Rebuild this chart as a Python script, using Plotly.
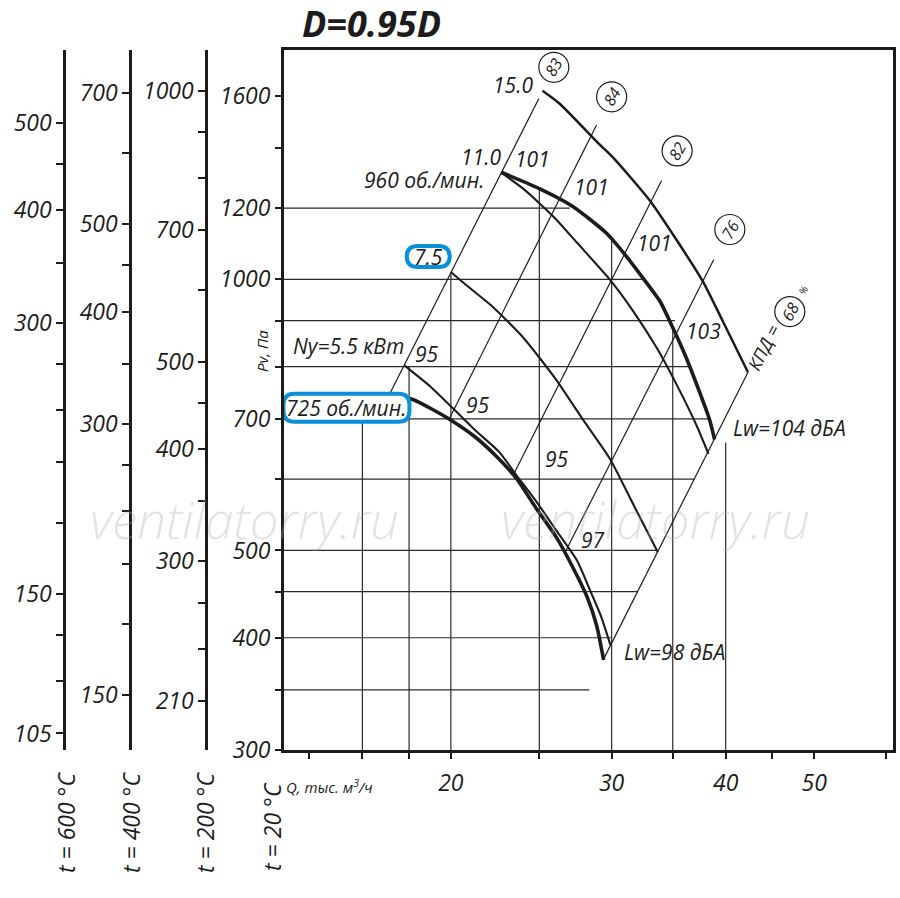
import numpy as np
import plotly.graph_objects as go

# --- fan curves, Q in thousand m3/h, Pv in Pa ---
# 960 rpm, motor 15.0 kW
q_960_15 = [25.2, 26.3, 29.1, 30.1, 33.0, 35.3, 37.8, 39.7, 42.3]
p_960_15 = [1620, 1568, 1412, 1366, 1225, 1108, 993, 899, 789]
# 960 rpm, motor 11.0 kW (thick working curve)
q_960_11 = [22.7, 25.0, 27.2, 29.6, 30.9, 32.5, 33.9, 35.0, 36.2, 37.5, 38.4, 38.9]
p_960_11 = [1315, 1261, 1205, 1126, 1071, 1002, 945, 884, 819, 747, 699, 664]
# 960 rpm, 11.0 kW second curve
q_960_11b = [22.7, 24.0, 25.0, 26.1, 27.5, 29.9, 31.7, 33.6, 35.3, 37.2, 38.3]
p_960_11b = [1315, 1261, 1215, 1165, 1098, 998, 921, 840, 766, 687, 640]
# 960 rpm, motor 7.5 kW
q_960_75 = [20.0, 20.8, 22.1, 24.0, 26.1, 27.9, 29.9, 31.7, 33.7]
p_960_75 = [1019, 985, 937, 862, 773, 699, 631, 562, 498]
# 725 rpm, motor 5.5 kW
q_725_55 = [17.8, 19.0, 20.0, 21.3, 22.6, 23.6, 24.8, 26.1, 27.5, 28.4, 29.2, 29.9]
p_725_55 = [802, 760, 723, 679, 643, 606, 567, 526, 487, 452, 423, 393]
# 725 rpm (thick working curve)
q_725 = [17.2, 18.2, 19.1, 19.95, 21.2, 22.4, 23.6, 24.8, 26.1, 27.2, 28.2, 28.9, 29.4]
p_725 = [747, 735, 717, 699, 670, 637, 601, 557, 517, 479, 444, 412, 378]

# efficiency rays (two end points each)
kpd_vals = ["83", "84", "82", "76", "68"]
kpd_q = [(17.15, 24.97), (19.95, 28.88), (23.44, 34.03), (26.66, 38.82), (29.37, 42.33)]
kpd_p = [(747, 1588), (702, 1484), (608, 1288), (497, 1052), (378, 789)]
kpd_circle_q = [25.93, 30.0, 35.39, 40.42, 47.02]
kpd_circle_p = [1720, 1595, 1389, 1136, 921]

# grid lines drawn only up to the curves
grid_p = [350, 400, 450, 500, 600, 700, 800, 900, 1000, 1200]
grid_p_end = [28.35, 30.0, 32.05, 33.7, 37.0, 38.4, 36.5, 35.2, 32.5, 27.0]
grid_q = [16, 18, 20, 25, 30, 35, 40]
grid_q_top = [700, 800, 1019, 1261, 1110, 884, 659]

# text labels inside the chart
lbl_text = ["15.0", "11.0", "960 об./мин.", "7.5", "101", "101", "101", "103",
            "Ny=5.5 кВт", "95", "95", "95", "97", "725 об./мин."]
lbl_q = [23.4, 21.6, 18.73, 18.89, 24.59, 28.52, 33.46, 37.79, 15.43, 18.81, 21.43, 26.11, 28.59, 15.37]
lbl_p = [1642, 1366, 1288, 1060, 1359, 1267, 1097, 876, 844, 826, 726, 632, 513, 720]
lw_text = ["Lw=104 дБА", "Lw=98 дБА"]
lw_q = [40.52, 30.78]
lw_p = [684, 386]

# axis ticks
q_ticks = [14, 16, 18, 20, 25, 30, 35, 40, 45, 50, 60]
q_labels = [20, 30, 40, 50]
p_ticks = [300, 350, 400, 450, 500, 600, 700, 800, 900, 1000, 1200, 1400, 1600]
p_labels = [300, 400, 500, 700, 1000, 1200, 1600]
t_names = ["t = 600 °C", "t = 400 °C", "t = 200 °C"]
t_ratio = [0.3353, 0.4343, 0.617]
t_ticks = [
    [105, 120, 135, 150, 180, 210, 240, 270, 300, 350, 400, 450, 500],
    [150, 180, 210, 240, 270, 300, 350, 400, 450, 500, 600, 700],
    [210, 240, 270, 300, 350, 400, 450, 500, 600, 700, 800, 900, 1000],
]
t_labels = [
    [105, 150, 300, 400, 500],
    [150, 300, 400, 500, 700],
    [210, 300, 400, 500, 700, 1000],
]

q_min, q_max = 13.13, 61.0
p_min, p_max = 300, 1797

W, H = 900, 898
FONT = "Open Sans"
INK = "#1c1c1c"
BLUE = "#0a8fd9"


def px_x(v):
    return v / W


def px_y(v):
    return 1 - v / H


def rounded_box(w, h, r):
    a, b = w / 2, h / 2
    return (f"M {-a + r:.1f},{-b:.1f} L {a - r:.1f},{-b:.1f} Q {a:.1f},{-b:.1f} {a:.1f},{-b + r:.1f} "
            f"L {a:.1f},{b - r:.1f} Q {a:.1f},{b:.1f} {a - r:.1f},{b:.1f} "
            f"L {-a + r:.1f},{b:.1f} Q {-a:.1f},{b:.1f} {-a:.1f},{b - r:.1f} "
            f"L {-a:.1f},{-b + r:.1f} Q {-a:.1f},{-b:.1f} {-a + r:.1f},{-b:.1f} Z")


def italic(size, **kw):
    return dict(family=FONT, size=size, style="italic", color=INK, **kw)


fig = go.Figure()

# grid
gx, gy = [], []
for p, qe in zip(grid_p, grid_p_end):
    gx += [q_min, qe, None]
    gy += [p, p, None]
for q, pt in zip(grid_q, grid_q_top):
    gx += [q, q, None]
    gy += [p_min, pt, None]
fig.add_trace(go.Scatter(x=gx, y=gy, mode="lines", line=dict(color="#2b2b2b", width=1.2),
                         hoverinfo="skip", showlegend=False))

# efficiency rays
dx, dy = [], []
for qq, pp in zip(kpd_q, kpd_p):
    dx += [qq[0], qq[1], None]
    dy += [pp[0], pp[1], None]
fig.add_trace(go.Scatter(x=dx, y=dy, mode="lines", line=dict(color=INK, width=1.2),
                         hoverinfo="skip", showlegend=False))

# fan curves
curves = [
    (q_960_15, p_960_15, 2.5),
    (q_960_11b, p_960_11b, 2.1),
    (q_960_11, p_960_11, 3.6),
    (q_960_75, p_960_75, 2.1),
    (q_725_55, p_725_55, 2.1),
    (q_725, p_725, 3.6),
]
for q, p, w in curves:
    fig.add_trace(go.Scatter(x=q, y=p, mode="lines", line=dict(color=INK, width=w, shape="spline", smoothing=0.6),
                             hoverinfo="skip", showlegend=False))

# circles for efficiency values
fig.add_trace(go.Scatter(x=kpd_circle_q, y=kpd_circle_p, mode="markers",
                         marker=dict(symbol="circle-open", size=30, color=INK, line=dict(width=1.2)),
                         hoverinfo="skip", showlegend=False))

# placeholder traces so the temperature scales are drawn
for i in range(len(t_names)):
    fig.add_trace(go.Scatter(x=[None], y=[None], yaxis=f"y{i + 2}", showlegend=False, hoverinfo="skip"))

ann = []
for t, q, p in zip(lbl_text, lbl_q, lbl_p):
    ann.append(dict(x=np.log10(q), y=np.log10(p), xref="x", yref="y", text=t, showarrow=False,
                    xanchor="center", yanchor="middle", font=italic(21)))
for t, q, p in zip(lw_text, lw_q, lw_p):
    ann.append(dict(x=np.log10(q), y=np.log10(p), xref="x", yref="y", text=t, showarrow=False,
                    xanchor="left", yanchor="middle", font=italic(21)))
for t, q, p in zip(kpd_vals, kpd_circle_q, kpd_circle_p):
    ann.append(dict(x=np.log10(q), y=np.log10(p), xref="x", yref="y", text=t, showarrow=False, textangle=-60,
                    xanchor="center", yanchor="middle", font=italic(16)))
ann.append(dict(x=np.log10(44.04), y=np.log10(841), xref="x", yref="y", text="КПД =", showarrow=False,
                textangle=-63, xanchor="center", yanchor="middle", font=italic(18)))
ann.append(dict(x=np.log10(48.62), y=np.log10(973), xref="x", yref="y", text="%", showarrow=False,
                textangle=-63, xanchor="center", yanchor="middle", font=italic(10)))

# titles
ann.append(dict(x=px_x(371), y=px_y(24), xref="paper", yref="paper", text="D=0.95D", showarrow=False,
                xanchor="center", yanchor="middle", font=italic(36, weight="bold")))
ann.append(dict(x=px_x(262), y=px_y(357), xref="paper", yref="paper", text="Pv, Па", showarrow=False,
                textangle=-90, xanchor="center", yanchor="middle", font=italic(15)))
ann.append(dict(x=px_x(284), y=px_y(800), xref="paper", yref="paper", text="Q, тыс. м<sup>3</sup>/ч",
                showarrow=False, xanchor="left", yanchor="middle", font=italic(15)))
for name, xp, yp in zip(t_names + ["t = 20 °C"], [66, 131, 205, 272], [836, 836, 836, 841]):
    ann.append(dict(x=px_x(xp), y=px_y(yp), xref="paper", yref="paper", text=name, showarrow=False,
                    textangle=-90, xanchor="center", yanchor="middle", font=italic(23)))

# watermark
for xp in [245, 655]:
    ann.append(dict(x=px_x(xp), y=px_y(528), xref="paper", yref="paper", text="ventilatorry.ru", showarrow=False,
                    xanchor="center", yanchor="middle",
                    font=dict(family=FONT, size=51, style="italic", weight=300, color="rgba(170,170,170,0.33)")))

# blue highlight boxes around the speed labels
shapes = []
for q, p, w, h in [(18.89, 1060, 43, 21), (15.37, 720, 126, 28)]:
    shapes.append(dict(type="path", xref="x", yref="y", xsizemode="pixel", ysizemode="pixel",
                       xanchor=q, yanchor=p, path=rounded_box(w, h, 11), layer="above",
                       line=dict(color=BLUE, width=4), fillcolor="white"))

tick_font = italic(23)

layout = dict(
    width=W, height=H, margin=dict(l=0, r=0, t=0, b=0),
    plot_bgcolor="white", paper_bgcolor="white", showlegend=False,
    annotations=ann, shapes=shapes,
    xaxis=dict(type="log", range=[np.log10(q_min), np.log10(q_max)], domain=[px_x(284), px_x(893)],
               tickvals=q_ticks, ticktext=[str(v) if v in q_labels else "" for v in q_ticks],
               ticks="outside", ticklen=6, tickwidth=1.5, tickcolor=INK, tickfont=tick_font,
               ticklabelstandoff=4,
               showline=True, linewidth=3, linecolor=INK, mirror=True, showgrid=False, zeroline=False),
    yaxis=dict(type="log", range=[np.log10(p_min), np.log10(p_max)], domain=[px_y(763), px_y(51)],
               tickvals=p_ticks, ticktext=[str(v) if v in p_labels else "" for v in p_ticks],
               ticks="outside", ticklen=6, tickwidth=1.5, tickcolor=INK, tickfont=tick_font,
               showline=True, linewidth=3, linecolor=INK, mirror=True, showgrid=False, zeroline=False),
)
for i, (r, tv, tl, xp) in enumerate(zip(t_ratio, t_ticks, t_labels, [64, 130, 206])):
    layout[f"yaxis{i + 2}"] = dict(
        type="log", overlaying="y", anchor="free", position=px_x(xp), side="left",
        range=[np.log10(p_min * r), np.log10(p_max * r)],
        tickvals=tv, ticktext=[str(v) if v in tl else "" for v in tv],
        ticks="outside", ticklen=7, tickwidth=1.5, tickcolor=INK, tickfont=tick_font,
        showline=True, linewidth=2.5, linecolor=INK, showgrid=False, zeroline=False)

fig.update_layout(**layout)

fig.write_html("out.html", config={"displayModeBar": False},
               post_script="document.body.style.margin='0px';")
